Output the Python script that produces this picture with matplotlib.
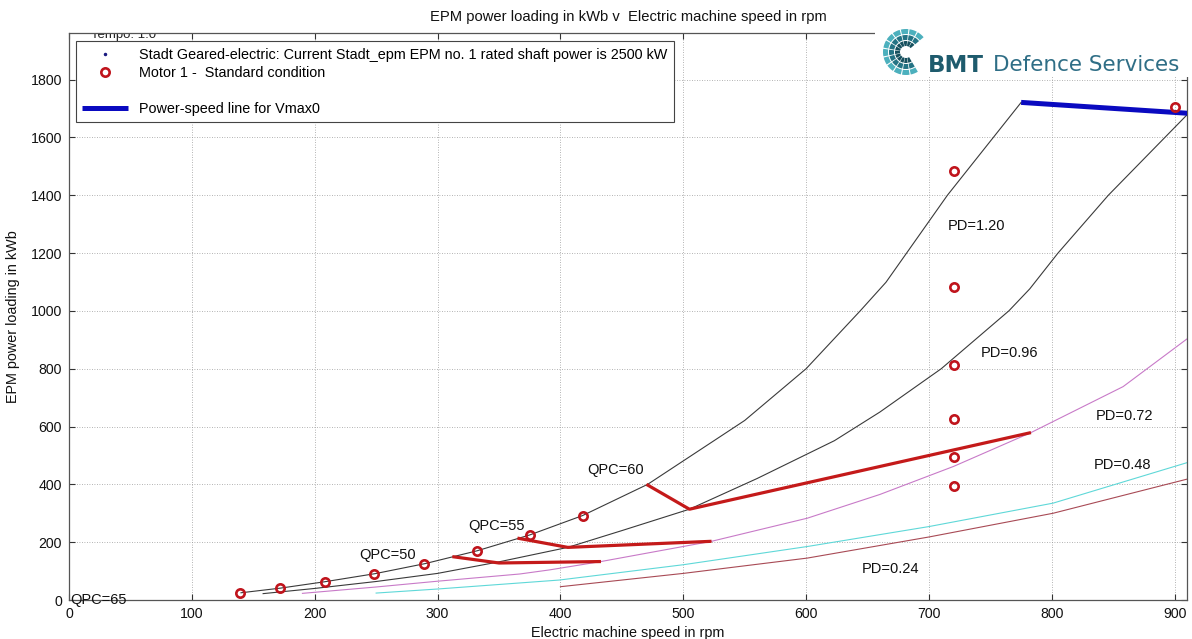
import matplotlib
matplotlib.use("Agg")
import matplotlib.pyplot as plt
from matplotlib.patches import Wedge

plt.rcParams['font.family'] = ['Liberation Sans', 'DejaVu Sans']

# ---- propeller-diameter power curves (rpm, kWb) ----
pd120_rpm = [140, 172, 208, 249, 290, 332, 375, 418, 471, 525, 550, 600, 644, 665, 715, 775]
pd120_kw = [25, 41, 63, 91, 126, 170, 225, 292, 400, 551, 621, 800, 1000, 1099, 1400, 1721]

pd096_rpm = [158, 200, 250, 300, 350, 406, 450, 505, 560, 623, 660, 710, 765, 782, 805, 846, 910]
pd096_kw = [22, 40, 64, 92, 132, 182, 240, 314, 420, 551, 650, 800, 1000, 1076, 1200, 1400, 1678]

pd072_rpm = [190, 250, 300, 367, 391, 433, 523, 601, 660, 720, 783, 858, 910]
pd072_kw = [23, 45, 65, 90, 104, 133, 203, 283, 365, 462, 579, 738, 903]

pd048_rpm = [250, 300, 399, 500, 601, 700, 801, 910]
pd048_kw = [24, 38, 69, 122, 185, 254, 335, 475]

pd024_rpm = [400, 500, 601, 700, 801, 910]
pd024_kw = [46, 92, 145, 218, 300, 418]

# ---- constant-QPC lines ----
qpc50_rpm = [312, 350, 433]
qpc50_kw = [150, 128, 133]
qpc55_rpm = [365, 406, 523]
qpc55_kw = [214, 182, 203]
qpc60_rpm = [470, 505, 783]
qpc60_kw = [400, 314, 579]

# ---- motor operating points ----
motor_rpm = [139, 172, 208, 248, 289, 332, 375, 418, 720, 720, 720, 720, 720, 720, 900]
motor_kw = [25, 41, 62, 90, 125, 170, 225, 292, 1485, 1083, 812, 625, 493, 395, 1704]

# ---- power-speed line for Vmax0 ----
vmax_rpm = [775, 912]
vmax_kw = [1721, 1683]

# ---- curve annotations ----
qpc_text = ["QPC=65", "QPC=50", "QPC=55", "QPC=60"]
qpc_text_rpm = [1, 236, 325, 422]
qpc_text_kw = [0, 156, 257, 448]

pd_text = ["PD=1.20", "PD=0.96", "PD=0.72", "PD=0.48", "PD=0.24"]
pd_text_rpm = [715, 742, 836, 834, 645]
pd_text_kw = [1295, 853, 637, 467, 108]

x_ticks = [0, 100, 200, 300, 400, 500, 600, 700, 800, 900]
y_ticks = [0, 200, 400, 600, 800, 1000, 1200, 1400, 1600, 1800]

W, H = 1192, 639
fig = plt.figure(figsize=(W / 100, H / 100), dpi=100)
fig.patch.set_facecolor("white")
ax = fig.add_axes([69 / W, 39 / H, 1118 / W, 566.7 / H])

ax.set_xlim(0, 910)
ax.set_ylim(0, 1960)
ax.set_xticks(x_ticks)
ax.set_yticks(y_ticks)
ax.tick_params(direction="in", length=4, width=0.8, top=True, right=True,
               labelsize=10.2, pad=5, colors="#333333")
ax.tick_params(axis="both", labelcolor="#111111")
for sp in ax.spines.values():
    sp.set_color("#555555")
    sp.set_linewidth(0.9)
ax.grid(True, color="#9a9a9a", linestyle=(0, (1, 2)), linewidth=0.6)
ax.set_axisbelow(True)

ax.set_title("EPM power loading in kWb v  Electric machine speed in rpm",
             fontsize=10.6, pad=9, color="#111111")
ax.set_xlabel("Electric machine speed in rpm", fontsize=10.4, labelpad=4, color="#111111")
ax.set_ylabel("EPM power loading in kWb", fontsize=10.4, labelpad=8, color="#111111")

# text partly hidden behind the legend
ax.text(18, 1945, "Tempo: 1.0", fontsize=9.5, va="baseline", ha="left",
        clip_on=True, color="#222222", zorder=1)

curve_kw = dict(linewidth=0.8, zorder=2)
ax.plot(pd120_rpm, pd120_kw, color="#3a3a3a", **curve_kw)
ax.plot(pd096_rpm, pd096_kw, color="#3a3a3a", **curve_kw)
ax.plot(pd072_rpm, pd072_kw, color="#c87ac8", **curve_kw)
ax.plot(pd048_rpm, pd048_kw, color="#5fd8d8", **curve_kw)
ax.plot(pd024_rpm, pd024_kw, color="#a84a55", **curve_kw)

qpc_kw = dict(color="#c41a1a", linewidth=2.3, solid_capstyle="butt", zorder=3)
ax.plot(qpc50_rpm, qpc50_kw, **qpc_kw)
ax.plot(qpc55_rpm, qpc55_kw, **qpc_kw)
ax.plot(qpc60_rpm, qpc60_kw, **qpc_kw)

h_dot, = ax.plot([], [], linestyle="none", marker=".", markersize=3, color="#1a1a80")
h_motor, = ax.plot(motor_rpm, motor_kw, linestyle="none", marker="o", markersize=6,
                   markeredgewidth=1.9, markerfacecolor="none", markeredgecolor="#c0141c",
                   zorder=5)
h_blank, = ax.plot([], [], color="white", linewidth=0)
h_vmax, = ax.plot(vmax_rpm, vmax_kw, color="#0a0ac0", linewidth=3.6,
                  solid_capstyle="butt", zorder=4)

for t, x, y in zip(qpc_text, qpc_text_rpm, qpc_text_kw):
    ax.text(x, y, t, fontsize=10.5, ha="left", va="center", color="#111111", zorder=6)
for t, x, y in zip(pd_text, pd_text_rpm, pd_text_kw):
    ax.text(x, y, t, fontsize=10.5, ha="left", va="center", color="#111111", zorder=6)

leg = ax.legend([h_dot, h_motor, h_blank, h_vmax],
                ["Stadt Geared-electric: Current Stadt_epm EPM no. 1 rated shaft power is 2500 kW",
                 "Motor 1 -  Standard condition", "Power-speed", "Power-speed line for Vmax0"],
                loc="upper left", bbox_to_anchor=(0.006, 0.986), borderaxespad=0,
                fontsize=10.4, fancybox=False, framealpha=1, edgecolor="#444444",
                handlelength=3.2, handletextpad=0.75, labelspacing=0.28,
                borderpad=0.45)
leg.get_frame().set_linewidth(0.8)
leg.set_zorder(10)
# the third row is left empty
leg.get_texts()[2].set_color("white")

# ---- logo block in the top-right corner ----
lx0, ly_top, lw, lh = 875, 20, 317, 57
logo = fig.add_axes([lx0 / W, 1 - (ly_top + lh) / H, lw / W, lh / H])
logo.set_xlim(0, lw)
logo.set_ylim(0, lh)
logo.set_facecolor("white")
logo.set_axis_off()
logo.add_patch(plt.Rectangle((0, 0), lw, lh, color="white", zorder=0))

cx, cy = 31, 25
rings = [(6, 11, "#16505e"), (12, 17, "#237384"), (18, 23, "#4cb0bd")]
for r_in, r_out, col in rings:
    step = 22
    a = 40
    while a < 300:
        logo.add_patch(Wedge((cx, cy), r_out, a, a + step - 3, width=r_out - r_in,
                             facecolor=col, edgecolor="none", zorder=2))
        a += step
logo.text(53, 12, "BMT", fontsize=16.5, fontweight="bold", color="#1e5b6d",
          family="DejaVu Sans", ha="left", va="center", zorder=3)
logo.text(118, 12, "Defence Services", fontsize=15.5, color="#2f6e86",
          family="DejaVu Sans", ha="left", va="center", zorder=3)

fig.savefig("out.png", dpi=100, facecolor="white")
